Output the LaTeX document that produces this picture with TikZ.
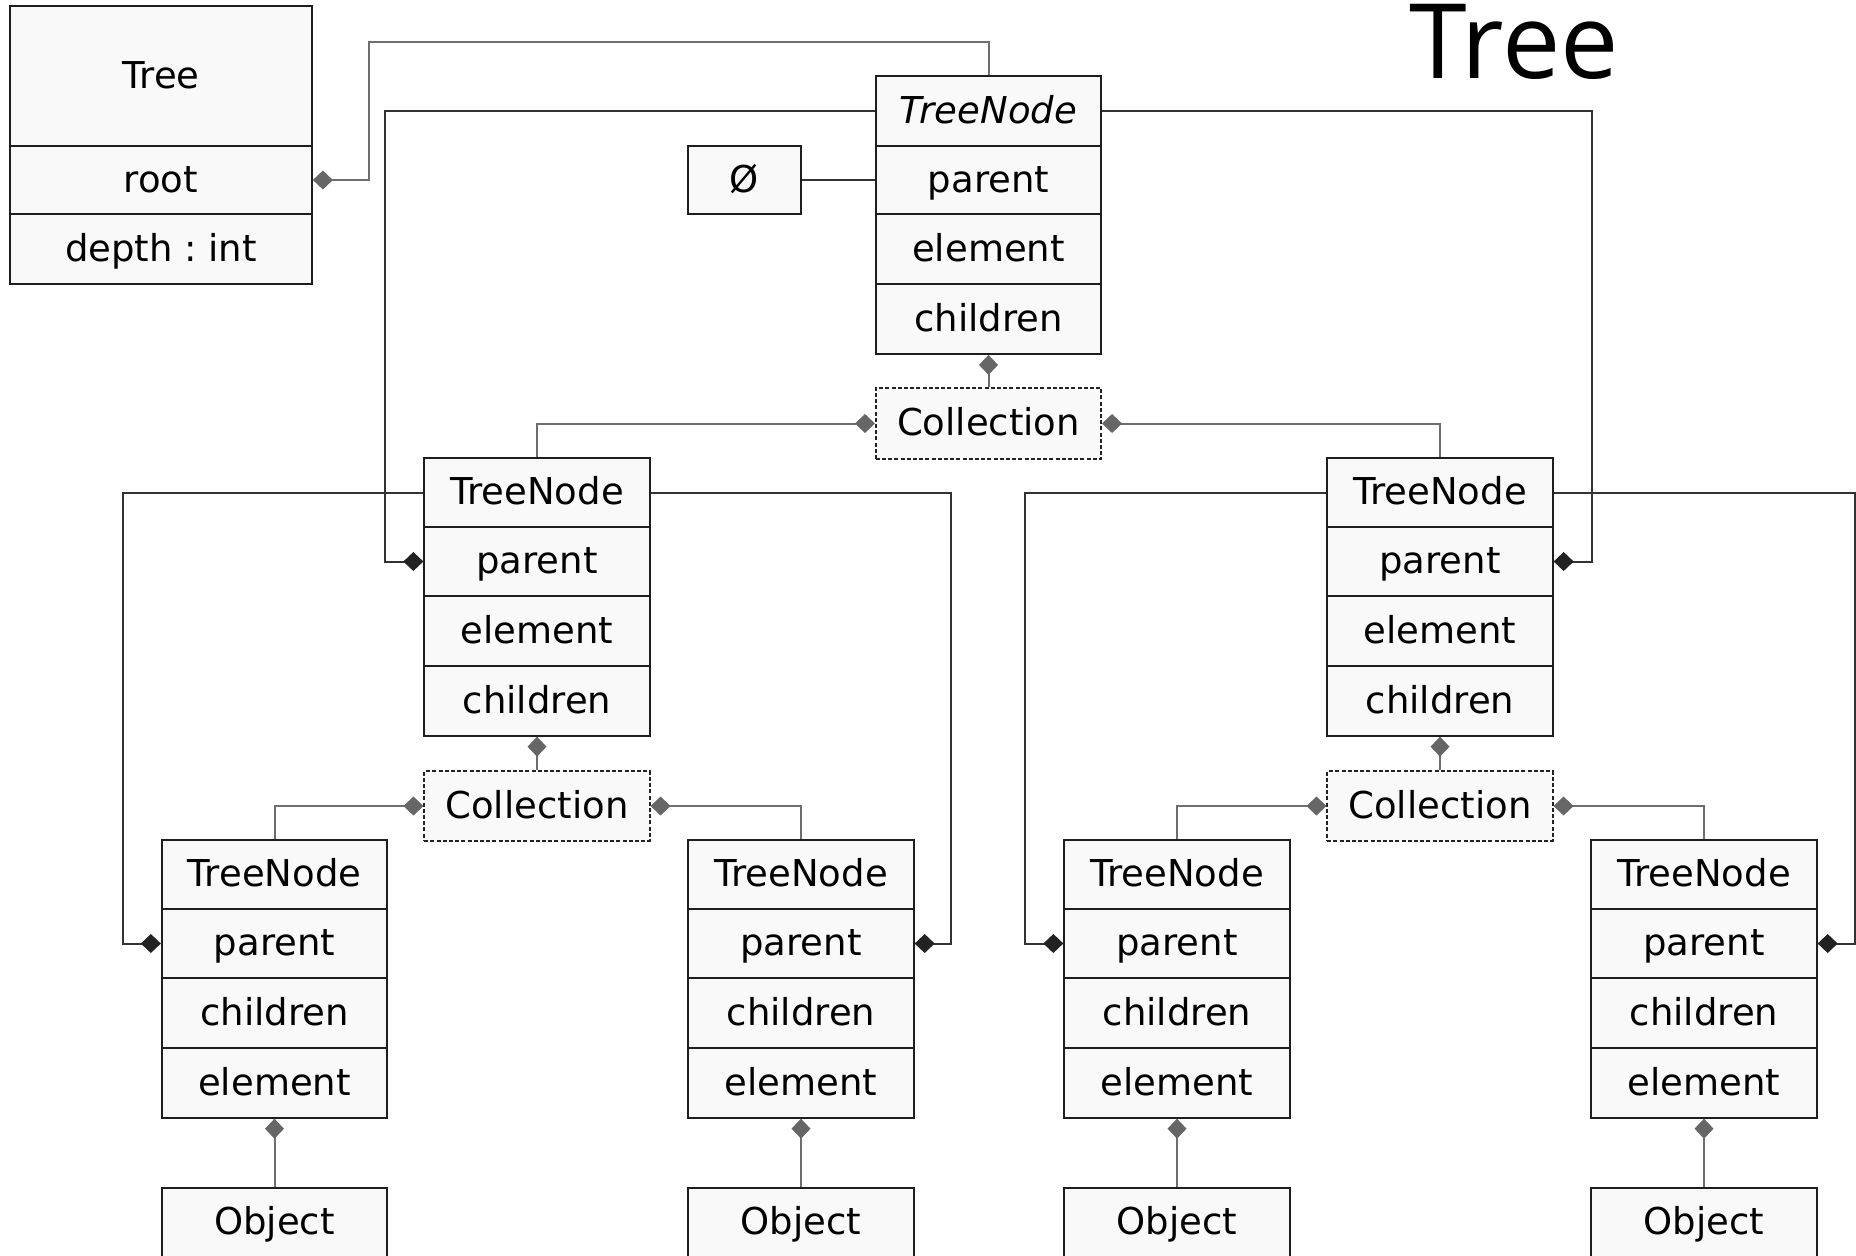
\documentclass[tikz,border=0pt]{standalone}
\usepackage{fontspec}
\setmainfont{DejaVu Sans}
\newfontfamily\titlefont{Open Sans}
\usetikzlibrary{arrows.meta,calc}
\definecolor{bd}{HTML}{1E1E1E}
\definecolor{bg}{HTML}{F9F9F9}
\definecolor{gline}{HTML}{6E6E6E}
\definecolor{gdia}{HTML}{666666}
\definecolor{dline}{HTML}{333333}
\definecolor{ddia}{HTML}{222222}
\frenchspacing
\begin{document}
\begin{tikzpicture}[x=0.5pt,y=-0.5pt,
  cell/.style={draw=bd, fill=bg, line width=0.9pt, inner sep=0pt,
    minimum height=34.75pt, text height=15pt, text depth=3pt,
    font=\fontsize{18.5}{22}\selectfont},
  wide/.style={minimum width=112.75pt},
  coll/.style={cell, wide, draw=ddia, line width=0.8pt, dash pattern=on 2pt off 1.1pt},
  gconn/.style={draw=gline, line width=1pt},
  dconn/.style={draw=dline, line width=1pt},
  gtip/.style={{Diamond[length=10pt,width=9.5pt,color=gdia]}-},
  dtip/.style={-{Diamond[length=10pt,width=9.5pt,color=ddia]}}
]
\useasboundingbox (0,0) rectangle (1856,1255);
\clip (0,0) rectangle (1856,1255);

% title
\node[anchor=base west, inner sep=0pt, font=\titlefont\fontsize{52}{60}\selectfont] (title) at (1409,78) {Tree};

% Tree class
\node[cell, minimum width=151pt, minimum height=70pt] (tt) at (161,76) {Tree};
\node[cell, minimum width=151pt, minimum height=34pt] (troot) at (161,180) {root};
\node[cell, minimum width=151pt, minimum height=35pt] (tdepth) at (161,249) {depth : int};

% top TreeNode
\node[cell, wide, minimum height=35pt] (n0h) at (988.5,111) {\itshape TreeNode};
\node[cell, wide, minimum height=34pt] (n0p) at (988.5,180) {parent};
\node[cell, wide, minimum height=35pt] (n0e) at (988.5,249) {element};
\node[cell, wide, minimum height=35pt] (n0c) at (988.5,319) {children};
\node[cell, minimum width=56.5pt, minimum height=34pt] (null) at (744.5,180) {Ø};
\node[coll, minimum height=35.5pt] (c0) at (988.5,423.5) {Collection};

% level 2
\foreach \nm/\cx in {L/537,R/1440}{
  \node[cell, wide] (\nm h) at (\cx,492.5) {TreeNode};
  \node[cell, wide] (\nm p) at (\cx,561.5) {parent};
  \node[cell, wide] (\nm e) at (\cx,631) {element};
  \node[cell, wide] (\nm c) at (\cx,701) {children};
  \node[coll] (\nm col) at (\cx,806) {Collection};
}

% level 3
\foreach \nm/\cx in {A/274.5,B/801,C/1177,D/1704}{
  \node[cell, wide] (\nm h) at (\cx,874.5) {TreeNode};
  \node[cell, wide] (\nm p) at (\cx,943.5) {parent};
  \node[cell, wide] (\nm c) at (\cx,1013) {children};
  \node[cell, wide] (\nm e) at (\cx,1083) {element};
  \node[cell, wide] (\nm o) at (\cx,1222.5) {Object};
}

% root connector
\draw[gconn, gtip] (troot.east) -| (369,42) -| (n0h.north);
% null
\draw[dconn] (null.east) -- (n0p.west);
% top node parent links
\draw[dconn, dtip] (n0h.west) -| ($(Lp.west)+(-38,0)$) -- (Lp.west);
\draw[dconn, dtip] (n0h.east) -| ($(Rp.east)+(38,0)$) -- (Rp.east);
% top collection
\draw[gconn, gtip] (n0c.south) -- (c0.north);
\draw[gconn, gtip] (c0.west) -| (Lh.north);
\draw[gconn, gtip] (c0.east) -| (Rh.north);

% level 2 collections
\draw[gconn, gtip] (Lc.south) -- (Lcol.north);
\draw[gconn, gtip] (Rc.south) -- (Rcol.north);
\draw[gconn, gtip] (Lcol.west) -| (Ah.north);
\draw[gconn, gtip] (Lcol.east) -| (Bh.north);
\draw[gconn, gtip] (Rcol.west) -| (Ch.north);
\draw[gconn, gtip] (Rcol.east) -| (Dh.north);

% level 2 parent links
\draw[dconn, dtip] (Lh.west) -| ($(Ap.west)+(-38,0)$) -- (Ap.west);
\draw[dconn, dtip] (Lh.east) -| ($(Bp.east)+(36,0)$) -- (Bp.east);
\draw[dconn, dtip] (Rh.west) -| ($(Cp.west)+(-38,0)$) -- (Cp.west);
\draw[dconn, dtip] (Rh.east) -| ($(Dp.east)+(37,0)$) -- (Dp.east);

% elements
\foreach \nm in {A,B,C,D}{
  \draw[gconn, gtip] (\nm e.south) -- (\nm o.north);
}
\end{tikzpicture}
\end{document}
